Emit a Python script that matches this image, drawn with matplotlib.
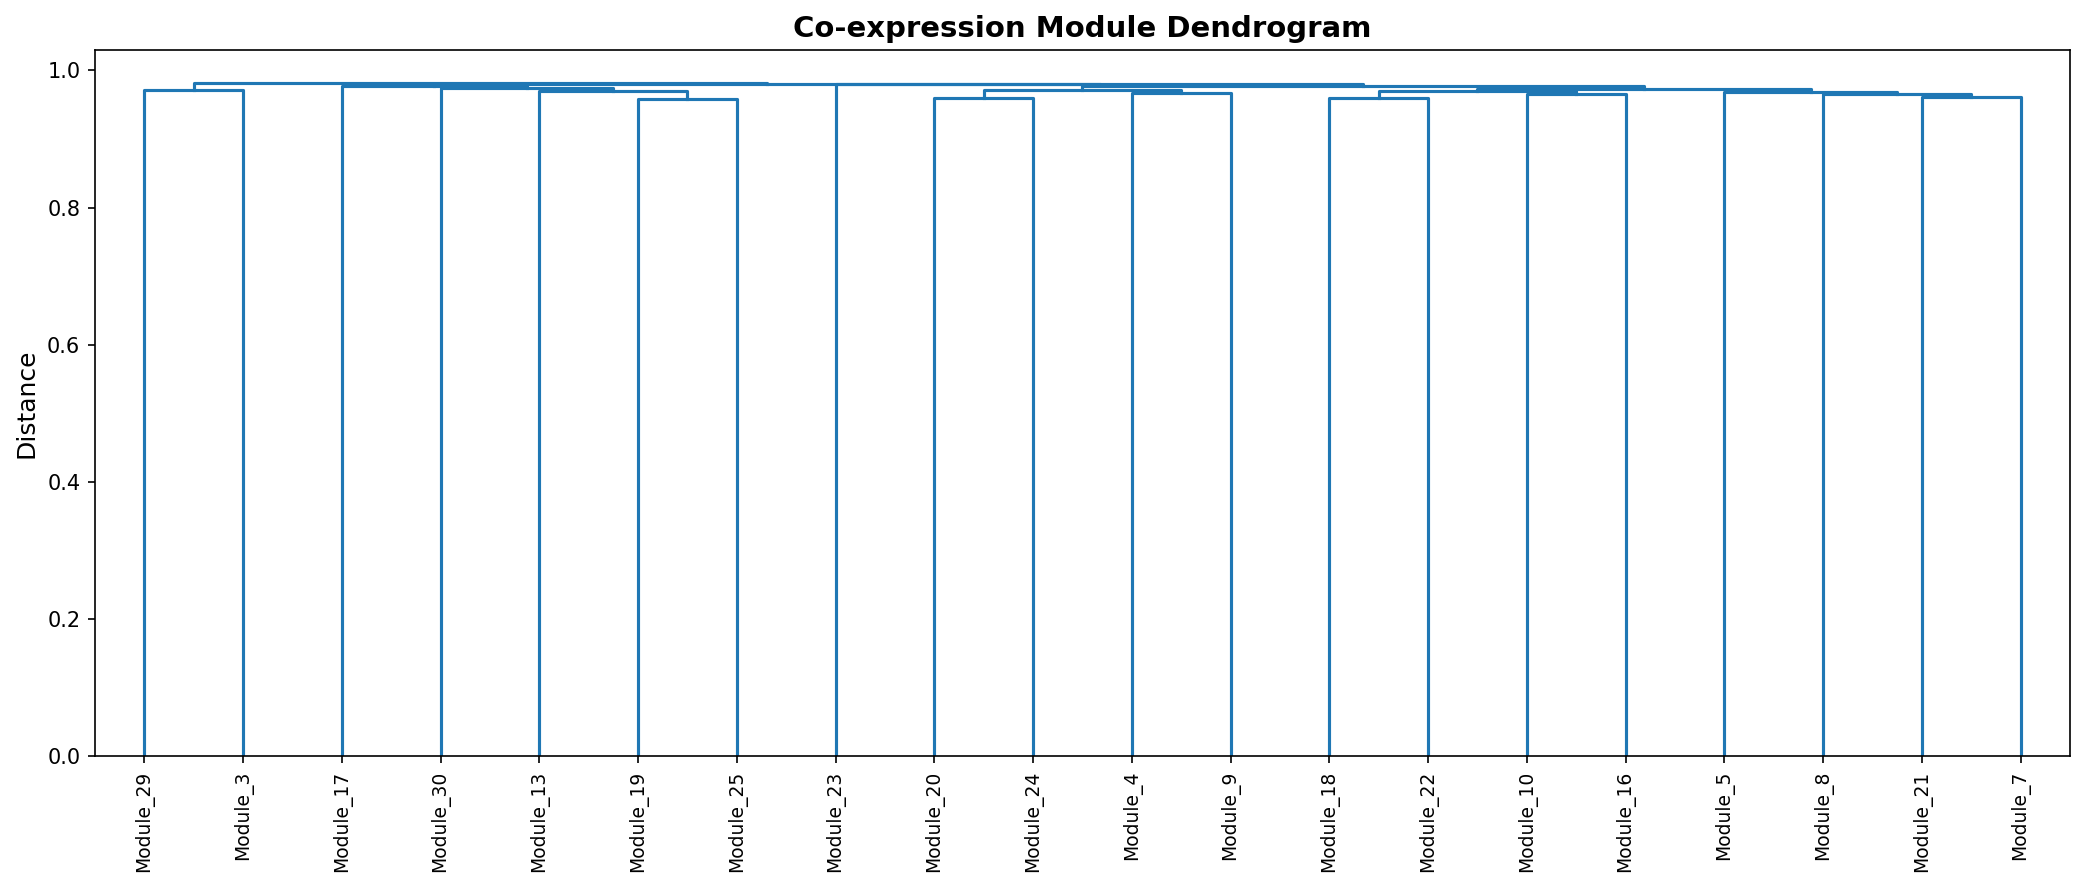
import matplotlib
matplotlib.use("Agg")
import matplotlib.pyplot as plt

# leaf order as it appears on the x axis
leaf_labels = ["Module_29", "Module_3", "Module_17", "Module_30", "Module_13",
               "Module_19", "Module_25", "Module_23", "Module_20", "Module_24",
               "Module_4", "Module_9", "Module_18", "Module_22", "Module_10",
               "Module_16", "Module_5", "Module_8", "Module_21", "Module_7"]

# merges, scipy style: ids < 20 are leaves, id 20+k is merge k
merge_left = [0, 5, 4, 3, 2, 8, 10, 25, 12, 14, 28, 18, 17, 16, 30, 27, 7, 24, 20]
merge_right = [1, 6, 21, 22, 23, 9, 11, 26, 13, 15, 29, 19, 31, 32, 33, 34, 35, 36, 37]
merge_height = [0.972, 0.958, 0.970, 0.975, 0.978, 0.960, 0.967, 0.971, 0.960,
                0.966, 0.9705, 0.962, 0.966, 0.969, 0.9725, 0.977, 0.980,
                0.9805, 0.9815]


def node_pos(n_leaves):
    xs = {i: 5 + 10 * i for i in range(n_leaves)}
    ys = {i: 0.0 for i in range(n_leaves)}
    for k, (a, b, h) in enumerate(zip(merge_left, merge_right, merge_height)):
        xs[n_leaves + k] = (xs[a] + xs[b]) / 2
        ys[n_leaves + k] = h
    return xs, ys


def main():
    n = len(leaf_labels)
    xs, ys = node_pos(n)

    fig = plt.figure(figsize=(2082 / 150, 884 / 150), dpi=150)
    ax = fig.add_axes([0.0456, 0.1448, 0.9486, 0.7992])

    for k, (a, b, h) in enumerate(zip(merge_left, merge_right, merge_height)):
        ax.plot([xs[a], xs[a], xs[b], xs[b]], [ys[a], h, h, ys[b]],
                color="#1f77b4", linewidth=1.5)

    ax.set_xlim(0, 10 * n)
    ax.set_ylim(0, max(merge_height) * 1.05)
    ax.set_xticks([5 + 10 * i for i in range(n)])
    ax.set_xticklabels(leaf_labels, rotation=90, fontsize=9)
    ax.set_ylabel("Distance", fontsize=12)
    ax.set_title("Co-expression Module Dendrogram", fontsize=14, fontweight="bold")

    fig.savefig("out.png", dpi=150)


if __name__ == "__main__":
    main()
